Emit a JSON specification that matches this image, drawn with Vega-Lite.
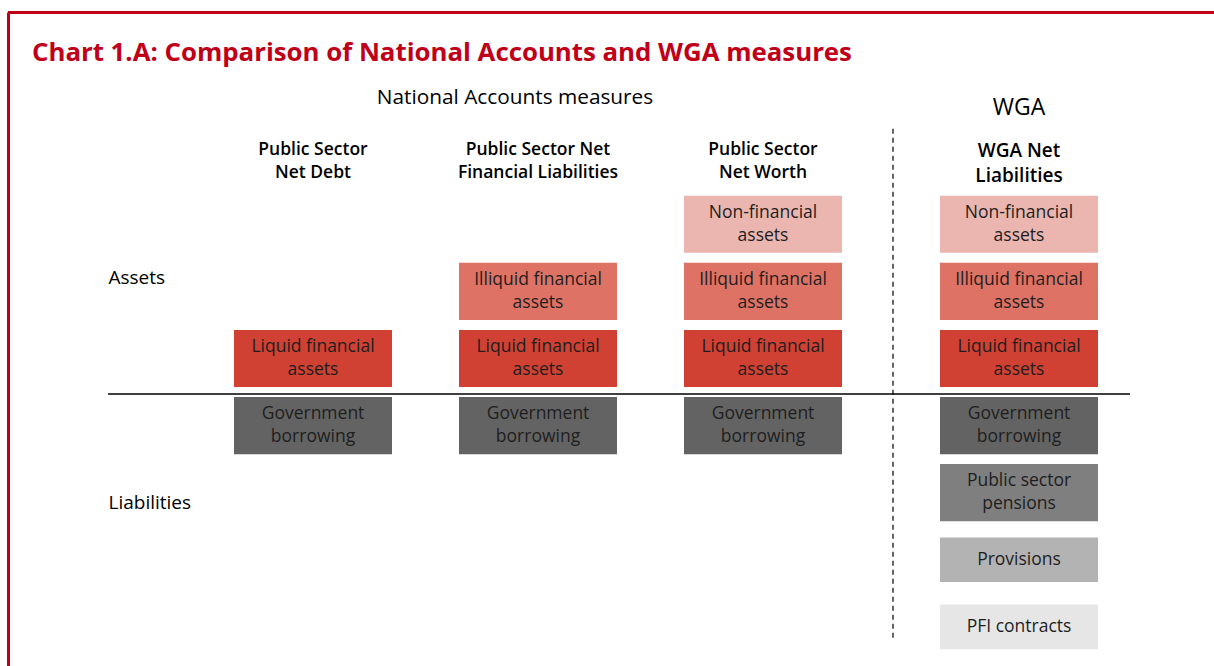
{
  "$schema": "https://vega.github.io/schema/vega-lite/v6.json",
  "width": 1206,
  "height": 654,
  "autosize": "none",
  "padding": {"left": 8, "top": 12, "right": 0, "bottom": 0},
  "background": "white",
  "config": {
    "view": {"stroke": null},
    "font": "Open Sans",
    "text": {"font": "Open Sans"}
  },
  "title": {
    "text": "Chart 1.A: Comparison of National Accounts and WGA measures",
    "anchor": "start",
    "frame": "group",
    "color": "#C00018",
    "font": "Open Sans",
    "fontSize": 25.8,
    "fontWeight": "bold",
    "baseline": "alphabetic",
    "offset": 0,
    "dx": 24,
    "dy": 76
  },
  "datasets": {
    "boxes": [
      {"group": "National Accounts", "measure": "Public Sector Net Debt", "row": "Liquid financial assets", "label": ["Liquid financial", "assets"]},
      {"group": "National Accounts", "measure": "Public Sector Net Debt", "row": "Government borrowing", "label": ["Government", "borrowing"]},
      {"group": "National Accounts", "measure": "Public Sector Net Financial Liabilities", "row": "Illiquid financial assets", "label": ["Illiquid financial", "assets"]},
      {"group": "National Accounts", "measure": "Public Sector Net Financial Liabilities", "row": "Liquid financial assets", "label": ["Liquid financial", "assets"]},
      {"group": "National Accounts", "measure": "Public Sector Net Financial Liabilities", "row": "Government borrowing", "label": ["Government", "borrowing"]},
      {"group": "National Accounts", "measure": "Public Sector Net Worth", "row": "Non-financial assets", "label": ["Non-financial", "assets"]},
      {"group": "National Accounts", "measure": "Public Sector Net Worth", "row": "Illiquid financial assets", "label": ["Illiquid financial", "assets"]},
      {"group": "National Accounts", "measure": "Public Sector Net Worth", "row": "Liquid financial assets", "label": ["Liquid financial", "assets"]},
      {"group": "National Accounts", "measure": "Public Sector Net Worth", "row": "Government borrowing", "label": ["Government", "borrowing"]},
      {"group": "WGA", "measure": "WGA Net Liabilities", "row": "Non-financial assets", "label": ["Non-financial", "assets"]},
      {"group": "WGA", "measure": "WGA Net Liabilities", "row": "Illiquid financial assets", "label": ["Illiquid financial", "assets"]},
      {"group": "WGA", "measure": "WGA Net Liabilities", "row": "Liquid financial assets", "label": ["Liquid financial", "assets"]},
      {"group": "WGA", "measure": "WGA Net Liabilities", "row": "Government borrowing", "label": ["Government", "borrowing"]},
      {"group": "WGA", "measure": "WGA Net Liabilities", "row": "Public sector pensions", "label": ["Public sector", "pensions"]},
      {"group": "WGA", "measure": "WGA Net Liabilities", "row": "Provisions", "label": ["Provisions"]},
      {"group": "WGA", "measure": "WGA Net Liabilities", "row": "PFI contracts", "label": ["PFI contracts"]}
    ],
    "headers": [
      {"group": "National Accounts", "measure": "Public Sector Net Debt", "row": "header", "label": ["Public Sector", "Net Debt"]},
      {"group": "National Accounts", "measure": "Public Sector Net Financial Liabilities", "row": "header", "label": ["Public Sector Net", "Financial Liabilities"]},
      {"group": "National Accounts", "measure": "Public Sector Net Worth", "row": "header", "label": ["Public Sector", "Net Worth"]},
      {"group": "WGA", "measure": "WGA Net Liabilities", "row": "header", "label": ["WGA Net", "Liabilities"]}
    ],
    "groups": [
      {"group": "National Accounts", "measure": "Public Sector Net Financial Liabilities", "row": "group", "label": "National Accounts measures"},
      {"group": "WGA", "measure": "WGA Net Liabilities", "row": "group", "label": "WGA"}
    ]
  },
  "encoding": {
    "y": {
      "field": "row",
      "type": "nominal",
      "scale": {
        "domain": ["group", "header", "Non-financial assets", "Illiquid financial assets", "Liquid financial assets", "Government borrowing", "Public sector pensions", "Provisions", "PFI contracts"],
        "paddingInner": 0.149,
        "paddingOuter": 0.448,
        "align": 0.824
      },
      "axis": {
        "title": null,
        "domain": false,
        "ticks": false,
        "tickSize": 0,
        "grid": false,
        "labelAlign": "left",
        "labelPadding": -100,
        "labelFont": "Open Sans",
        "labelFontSize": 19,
        "labelColor": "#000000",
        "labelOverlap": false,
        "labelOffset": {"condition": {"test": "datum.value === 'Illiquid financial assets'", "value": -13}, "value": 10},
        "labelExpr": "datum.value === 'Illiquid financial assets' ? 'Assets' : datum.value === 'Public sector pensions' ? 'Liabilities' : ''"
      }
    }
  },
  "layer": [
    {
      "layer": [
        {
          "data": {"name": "boxes"},
          "transform": [{"filter": "datum.group === 'National Accounts'"}],
          "mark": {"type": "rect"},
          "encoding": {
            "x": {"field": "measure", "type": "nominal", "axis": null,
              "scale": {"domain": ["Public Sector Net Debt", "Public Sector Net Financial Liabilities", "Public Sector Net Worth"], "range": [226, 834], "paddingInner": 0.2978, "paddingOuter": 0}},
            "color": {"field": "row", "type": "nominal", "legend": null,
              "scale": {"domain": ["Non-financial assets", "Illiquid financial assets", "Liquid financial assets", "Government borrowing", "Public sector pensions", "Provisions", "PFI contracts"],
                "range": ["#EBB5B0", "#DE7265", "#D04133", "#636363", "#7F7F7F", "#B3B3B3", "#E6E6E6"]}}
          }
        },
        {
          "data": {"values": [{"line": "frame top"}]},
          "mark": {"type": "rule", "color": "#C00018", "strokeWidth": 3},
          "encoding": {
            "y": {"datum": "group", "type": "nominal", "bandPosition": -0.858}
          }
        },
        {
          "data": {"values": [{"line": "frame left"}]},
          "mark": {"type": "rule", "color": "#C00018", "strokeWidth": 3},
          "encoding": {
            "x": {"datum": "Public Sector Net Debt", "type": "nominal", "bandPosition": -1.4272},
            "y": {"datum": "group", "type": "nominal", "bandPosition": -0.858},
            "y2": {"datum": "PFI contracts", "bandPosition": 1.2}
          }
        },
        {
          "data": {"name": "boxes"},
          "transform": [{"filter": "datum.group === 'National Accounts'"}],
          "mark": {"type": "text", "fontSize": 17.5, "lineHeight": 23, "baseline": "middle", "align": "center", "color": "#1E1E1E", "dy": -11.5},
          "encoding": {
            "x": {"field": "measure", "type": "nominal"},
            "text": {"field": "label"}
          }
        },
        {
          "data": {"name": "headers"},
          "transform": [{"filter": "datum.group === 'National Accounts'"}],
          "mark": {"type": "text", "fontSize": 17.5, "fontWeight": 600, "lineHeight": 23, "baseline": "middle", "align": "center", "color": "#000000", "dy": -7},
          "encoding": {
            "x": {"field": "measure", "type": "nominal"},
            "text": {"field": "label"}
          }
        },
        {
          "data": {"name": "groups"},
          "transform": [{"filter": "datum.group === 'National Accounts'"}],
          "mark": {"type": "text", "fontSize": 20.8, "baseline": "middle", "align": "center", "color": "#000000", "dx": -23, "dy": 8},
          "encoding": {
            "x": {"field": "measure", "type": "nominal"},
            "text": {"field": "label"}
          }
        },
        {
          "data": {"values": [{"line": "assets/liabilities divider"}]},
          "mark": {"type": "rule", "color": "#000000", "strokeWidth": 1.5},
          "encoding": {
            "x": {"datum": "Public Sector Net Debt", "type": "nominal", "bandPosition": -0.797},
            "x2": {"datum": "Public Sector Net Worth", "bandPosition": 2.823},
            "y": {"datum": "Government borrowing", "type": "nominal", "bandPosition": -0.053}
          }
        }
      ]
    },
    {
      "layer": [
        {
          "data": {"name": "boxes"},
          "transform": [{"filter": "datum.group === 'WGA' && datum.row !== 'Provisions' && datum.row !== 'PFI contracts'"}],
          "mark": {"type": "rect"},
          "encoding": {
            "x": {"field": "measure", "type": "nominal", "axis": null,
              "scale": {"domain": ["WGA Net Liabilities"], "range": [932, 1090], "paddingInner": 0, "paddingOuter": 0}},
            "color": {"field": "row", "type": "nominal", "legend": null}
          }
        },
        {
          "data": {"name": "boxes"},
          "transform": [{"filter": "datum.row === 'Provisions' || datum.row === 'PFI contracts'"}],
          "mark": {"type": "rect", "height": {"band": 0.78}},
          "encoding": {
            "x": {"field": "measure", "type": "nominal"},
            "color": {"field": "row", "type": "nominal", "legend": null}
          }
        },
        {
          "data": {"name": "boxes"},
          "transform": [{"filter": "datum.group === 'WGA' && datum.row !== 'Provisions' && datum.row !== 'PFI contracts'"}],
          "mark": {"type": "text", "fontSize": 17.5, "lineHeight": 23, "baseline": "middle", "align": "center", "color": "#1E1E1E", "dy": -11.5},
          "encoding": {
            "x": {"field": "measure", "type": "nominal"},
            "text": {"field": "label"}
          }
        },
        {
          "data": {"name": "boxes"},
          "transform": [{"filter": "datum.row === 'Provisions' || datum.row === 'PFI contracts'"}],
          "mark": {"type": "text", "fontSize": 17.5, "baseline": "middle", "align": "center", "color": "#1E1E1E"},
          "encoding": {
            "x": {"field": "measure", "type": "nominal"},
            "text": {"field": "label"}
          }
        },
        {
          "data": {"name": "headers"},
          "transform": [{"filter": "datum.group === 'WGA'"}],
          "mark": {"type": "text", "fontSize": 19, "fontWeight": 600, "lineHeight": 25, "baseline": "middle", "align": "center", "color": "#000000", "dy": -6},
          "encoding": {
            "x": {"field": "measure", "type": "nominal"},
            "text": {"field": "label"}
          }
        },
        {
          "data": {"name": "groups"},
          "transform": [{"filter": "datum.group === 'WGA'"}],
          "mark": {"type": "text", "fontSize": 23, "baseline": "middle", "align": "center", "color": "#000000", "dy": 18},
          "encoding": {
            "x": {"field": "measure", "type": "nominal"},
            "text": {"field": "label"}
          }
        },
        {
          "data": {"values": [{"line": "National Accounts / WGA divider"}]},
          "mark": {"type": "rule", "color": "#000000", "strokeWidth": 1.2, "strokeDash": [5, 4]},
          "encoding": {
            "x": {"datum": "WGA Net Liabilities", "type": "nominal", "bandPosition": -0.2975},
            "y": {"datum": "header", "type": "nominal", "bandPosition": 0},
            "y2": {"datum": "PFI contracts", "bandPosition": 0.73}
          }
        }
      ]
    }
  ],
  "resolve": {"scale": {"x": "independent"}}
}
